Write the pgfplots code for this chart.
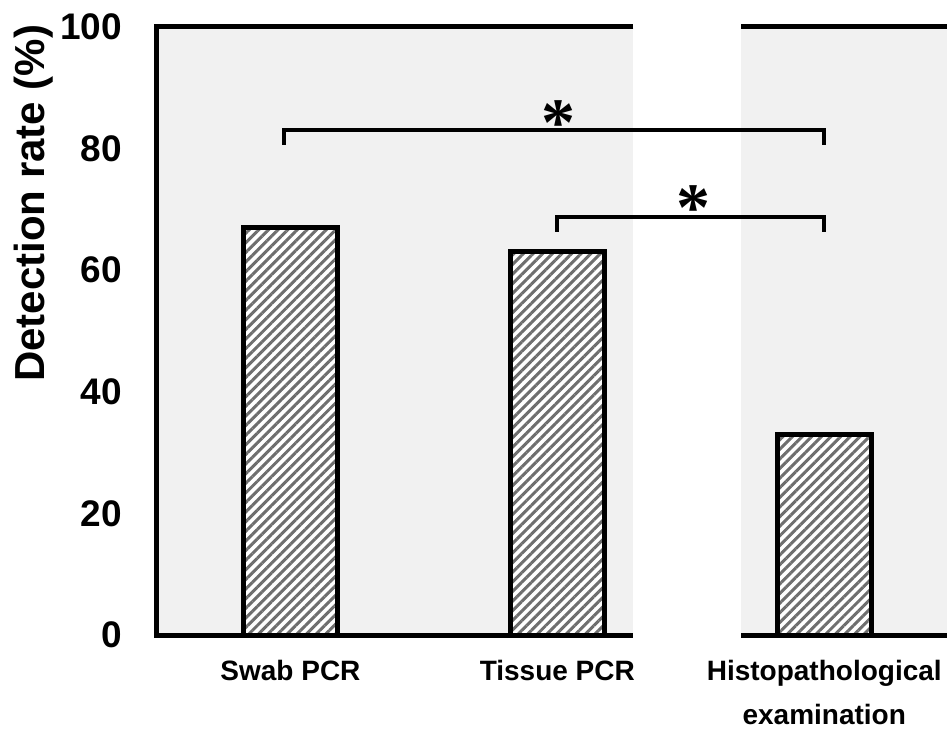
\documentclass[border=0pt]{standalone}
\usepackage{fontspec}
\setmainfont{Liberation Sans}
\newfontfamily\starfont{Liberation Serif}
\usepackage{pgfplots}
\pgfplotsset{compat=1.18}
\usetikzlibrary{patterns.meta}
\definecolor{bgray}{HTML}{F1F1F1}
\definecolor{hatch}{HTML}{6E6E6E}

\begin{document}
\begin{tikzpicture}
\begin{axis}[
    width=395pt, height=304pt,
    scale only axis,
    axis lines=left,
    axis line style={draw=none},
    clip=false,
    xmin=-0.5, xmax=2.46,
    ymin=0, ymax=100,
    ybar, bar width=47pt,
    xtick=data,
    xticklabels={Swab PCR, Tissue PCR, {Histopathological\\examination}},
    ytick={0,20,40,60,80,100},
    major tick length=0pt,
    tick style={draw=none},
    xticklabel style={font=\bfseries\fontsize{14}{22}\selectfont, align=center, anchor=north, yshift=-9pt},
    yticklabel style={font=\bfseries\fontsize{18.5}{21}\selectfont, anchor=east, xshift=-14pt},
    /pgf/number format/assume math mode=true,
    axis background/.style={fill=bgray},
]
% white gap in the plot area
\fill[white] (axis cs:1.285,0) rectangle (axis cs:1.69,100);

\addplot[draw=black, line width=2.5pt,
    fill=white, postaction={pattern={Lines[angle=45,distance=3.4pt,line width=1.5pt]}, pattern color=hatch}]
    coordinates {(0,67) (1,63) (2,33)};

% axis frame, broken at the gap
\draw[line width=2.5pt] (axis cs:1.285,100) -- (axis cs:-0.5,100) -- (axis cs:-0.5,0) -- (axis cs:1.285,0);
\draw[line width=2.5pt] (axis cs:1.69,100) -- (axis cs:2.46,100);
\draw[line width=2.5pt] (axis cs:1.69,0) -- (axis cs:2.46,0);

% significance brackets
\draw[line width=2pt] (axis cs:-0.026,80.6) -- (axis cs:-0.026,83.1) -- (axis cs:2.0,83.1) -- (axis cs:2.0,80.6);
\node[font=\starfont\bfseries\fontsize{34}{34}\selectfont, inner sep=0pt] at (axis cs:1.004,84.2) {*};
\draw[line width=2pt] (axis cs:1.0,66.3) -- (axis cs:1.0,68.75) -- (axis cs:2.0,68.75) -- (axis cs:2.0,66.3);
\node[font=\starfont\bfseries\fontsize{34}{34}\selectfont, inner sep=0pt] at (axis cs:1.509,70.3) {*};

\node[rotate=90, font=\bfseries\fontsize{21}{23}\selectfont] at ([xshift=-61.5pt]rel axis cs:0,0.71) {Detection rate (\%)};

\coordinate (bl) at (rel axis cs:0,0);
\coordinate (tr) at (rel axis cs:1,1);
\end{axis}
\pgfresetboundingbox
\path[use as bounding box] ([xshift=-78.5pt,yshift=-47pt]bl) rectangle ([yshift=13.5pt]tr);
\end{tikzpicture}
\end{document}
